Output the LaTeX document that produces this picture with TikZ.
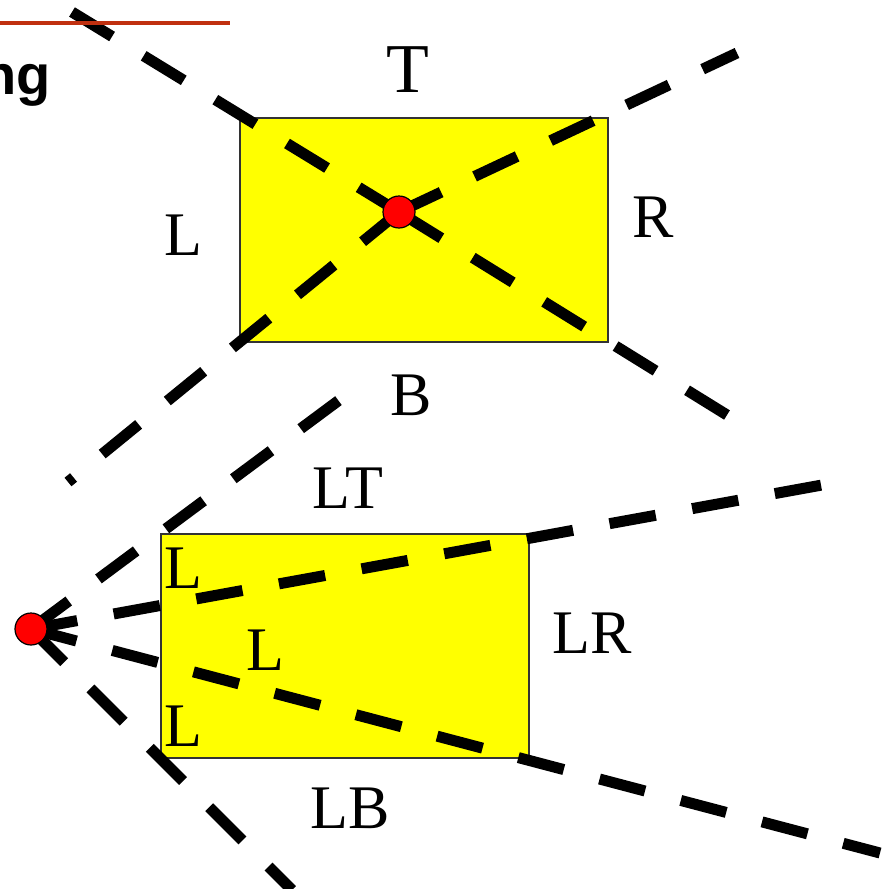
\documentclass[tikz,border=0pt]{standalone}
\usepackage{fontspec}
\setmainfont{Liberation Serif}
\newfontfamily\headsans{Liberation Sans}
\pgfdeclarelayer{boxes}
\pgfdeclarelayer{lines}
\pgfsetlayers{boxes,lines,main}
\definecolor{rulered}{RGB}{192,48,16}
\definecolor{boxyellow}{RGB}{255,255,0}
\definecolor{dotred}{RGB}{255,0,0}
\begin{document}
\begin{tikzpicture}[x=1pt,y=-1pt,
  dline/.style={line width=11pt, dash pattern=on 47pt off 37pt, line cap=butt},
  box/.style={draw=black!80, line width=1.5pt, fill=boxyellow, inner sep=0pt,
              minimum width=368pt, minimum height=224pt, anchor=north west},
  dot/.style={circle, draw=black, line width=1.2pt, fill=dotred,
              minimum size=32pt, inner sep=0pt},
  lbl/.style={inner sep=0pt, font=\fontsize{62}{62}\selectfont},
  big/.style={inner sep=0pt, font=\fontsize{70}{70}\selectfont},
]
\useasboundingbox (0,0) rectangle (885,889);

% heading fragment and rule
\coordinate (ruleA) at (0,23);
\coordinate (ruleB) at (230,23);
\draw[rulered, line width=4pt] (ruleA) -- (ruleB);
\node[anchor=base east, inner sep=0pt,
      font=\headsans\bfseries\fontsize{56}{56}\selectfont] (head) at (51,94) {ng};

% the two rectangles
\begin{pgfonlayer}{boxes}
  \node[box] (rtop) at (239,117) {};
  \node[box] (rbot) at (160,533) {};
\end{pgfonlayer}

% centres of the two viewpoints
\coordinate (pc) at (399,212);
\coordinate (qc) at (31,629);

% ends of the sight lines
\coordinate (a1) at (72,12);
\coordinate (a2) at (727,415);
\coordinate (a3) at (737,53);
\coordinate (a4) at (68,482);
\coordinate (b1) at (342,398);
\coordinate (b2) at (822,485);
\coordinate (b3) at (880,853);
\coordinate (b4) at (292,890);

\begin{pgfonlayer}{lines}
  % lines through the corners of the upper rectangle
  \draw[dline] (a1) -- (pc);
  \draw[dline] (a2) -- (pc);
  \draw[dline, dash phase=9pt] (a3) -- (pc);
  \draw[dline] (pc) -- (a4);
  % lines from the left viewpoint through the lower rectangle's corners
  \draw[dline] (qc) -- (b1);
  \draw[dline] (qc) -- (b2);
  \draw[dline] (qc) -- (b3);
  \draw[dline] (qc) -- (b4);
\end{pgfonlayer}

\node[dot] (P) at (pc) {};
\node[dot] (Q) at (qc) {};

% labels of the upper rectangle
\node[big] (tT) at (408,70) {T};
\node[lbl] (tL) at (183,235) {L};
\node[lbl] (tR) at (653,217) {R};
\node[lbl] (tB) at (411,395) {B};

% labels of the lower rectangle
\node[lbl] (bLT) at (348,488) {LT};
\node[lbl] (bLR) at (592,633) {LR};
\node[lbl] (bLB) at (350,808) {LB};
\node[lbl] (bL1) at (183,568) {L};
\node[lbl] (bL2) at (265,650) {L};
\node[lbl] (bL3) at (183,726) {L};
\end{tikzpicture}
\end{document}
